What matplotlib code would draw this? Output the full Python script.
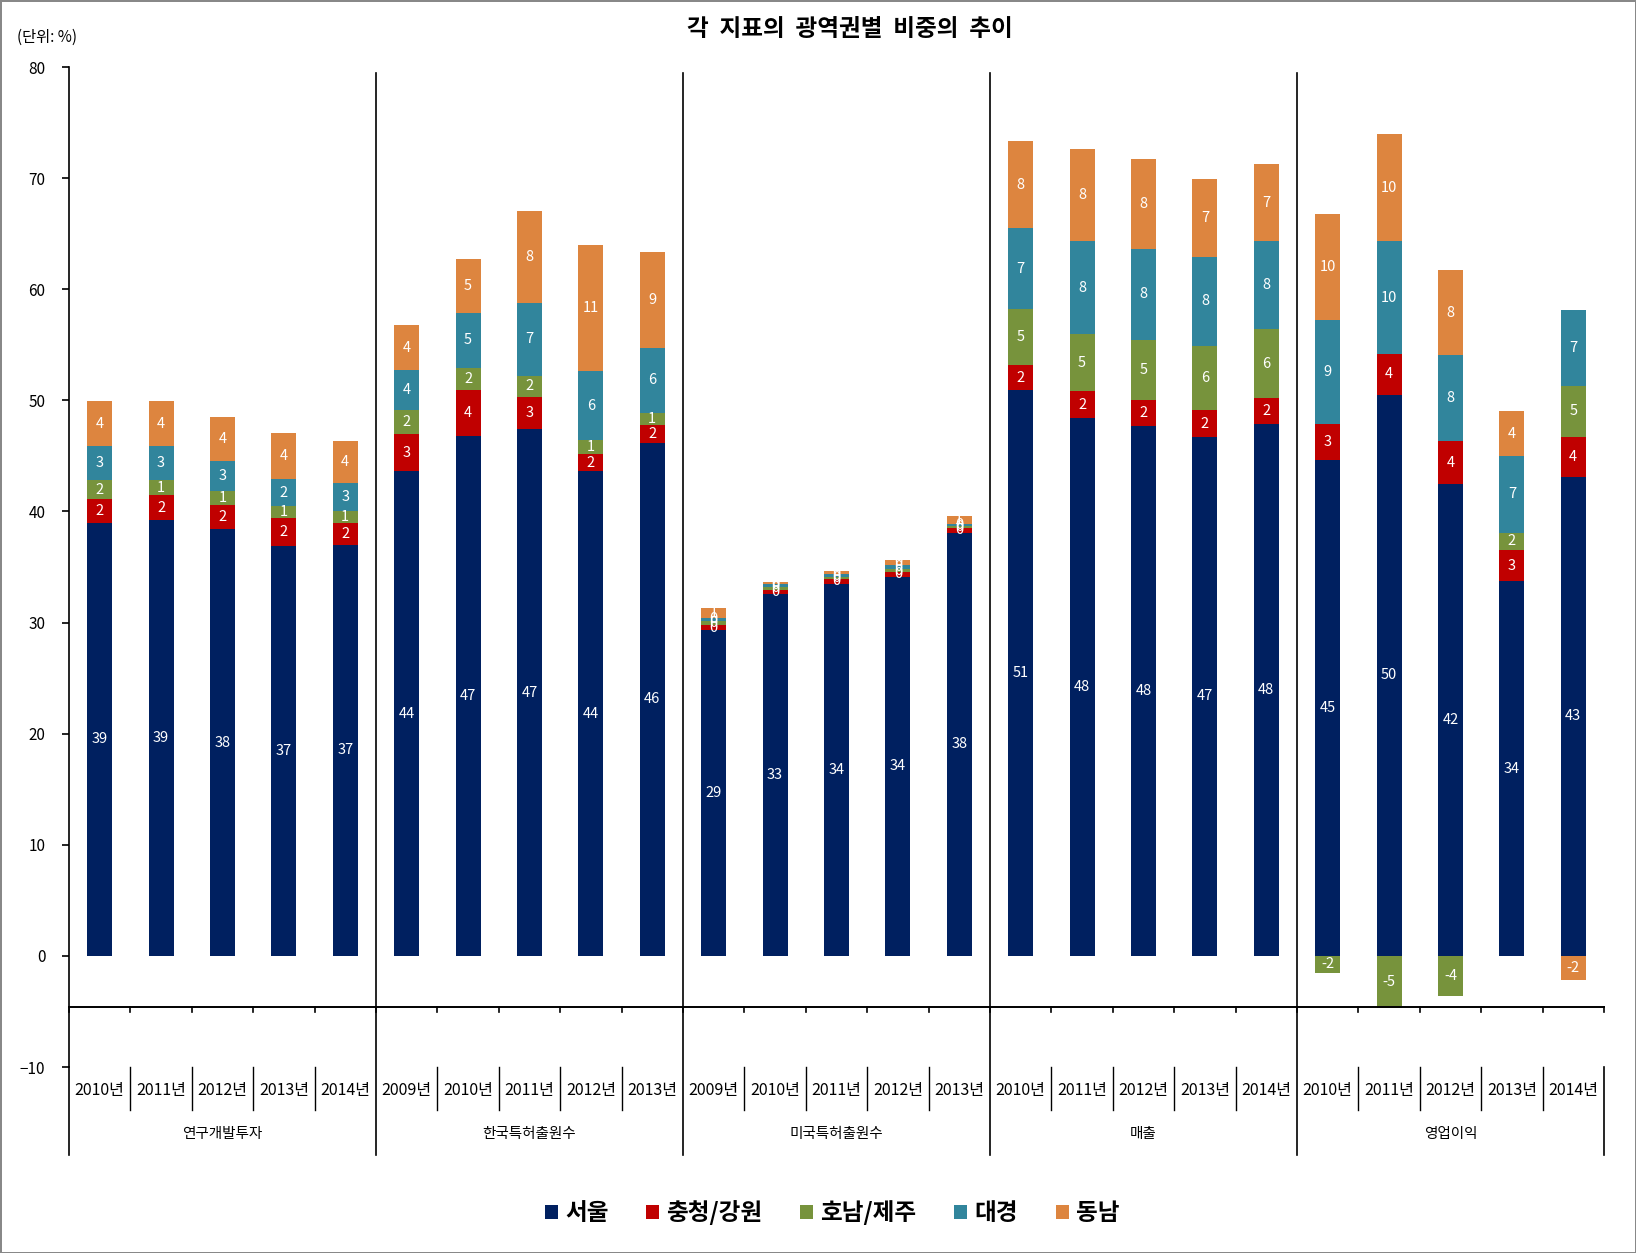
import matplotlib
matplotlib.use("Agg")
import matplotlib.pyplot as plt
import matplotlib.transforms as mtransforms
from matplotlib.patches import Patch
import numpy as np

plt.rcParams['font.family'] = ['Noto Sans CJK KR', 'DejaVu Sans']

# ---------------- data ----------------
groups = ['연구개발투자', '한국특허출원수', '미국특허출원수', '매출', '영업이익']
years = [
    ['2010년', '2011년', '2012년', '2013년', '2014년'],
    ['2009년', '2010년', '2011년', '2012년', '2013년'],
    ['2009년', '2010년', '2011년', '2012년', '2013년'],
    ['2010년', '2011년', '2012년', '2013년', '2014년'],
    ['2010년', '2011년', '2012년', '2013년', '2014년'],
]
series_names = ['서울', '충청/강원', '호남/제주', '대경', '동남']

seoul = [39.0, 39.2, 38.4, 36.9, 37.0,
         43.6, 46.8, 47.4, 43.6, 46.2,
         29.3, 32.6, 33.5, 34.1, 38.1,
         50.9, 48.4, 47.7, 46.7, 47.9,
         44.6, 50.5, 42.5, 33.7, 43.1]
chungcheong = [2.1, 2.3, 2.2, 2.5, 2.0,
               3.4, 4.1, 2.9, 1.6, 1.55,
               0.48, 0.35, 0.45, 0.45, 0.39,
               2.3, 2.4, 2.3, 2.4, 2.3,
               3.3, 3.7, 3.8, 2.8, 3.6]
honam = [1.7, 1.3, 1.2, 1.1, 1.0,
         2.1, 2.0, 1.9, 1.2, 1.1,
         0.38, 0.27, 0.18, 0.25, 0.21,
         5.0, 5.2, 5.45, 5.8, 6.2,
         -1.55, -4.7, -3.6, 1.6, 4.6]
daegyeong = [3.1, 3.1, 2.7, 2.4, 2.6,
             3.6, 5.0, 6.6, 6.2, 5.9,
             0.27, 0.24, 0.21, 0.39, 0.21,
             7.3, 8.3, 8.2, 8.0, 7.9,
             9.3, 10.1, 7.8, 6.9, 6.8]
dongnam = [4.0, 4.0, 4.0, 4.2, 3.7,
           4.1, 4.8, 8.2, 11.4, 8.6,
           0.9, 0.21, 0.33, 0.45, 0.69,
           7.8, 8.3, 8.1, 7.0, 7.0,
           9.6, 9.7, 7.6, 4.0, -2.2]

colors = ['#002060', '#C00000', '#77933C', '#31859C', '#DD853F']

# ---------------- figure ----------------
W, H = 1636, 1253
fig = plt.figure(figsize=(W / 100, H / 100), dpi=100)
fig.patch.set_edgecolor('#888888')
fig.patch.set_linewidth(2)

ax_l, ax_r, ax_t, ax_b = 69, 1604, 67, 1067
ax = fig.add_axes([ax_l / W, 1 - ax_b / H, (ax_r - ax_l) / W, (ax_b - ax_t) / H])

labels_flat = [y for g in years for y in g]
n = len(labels_flat)
x = np.arange(n)
data = [seoul, chungcheong, honam, daegyeong, dongnam]

pos_bottom = np.zeros(n)
neg_bottom = np.zeros(n)
bw = 0.41
for vals, col, name in zip(data, colors, series_names):
    vals = np.array(vals, dtype=float)
    bottoms = np.where(vals >= 0, pos_bottom, neg_bottom)
    ax.bar(x, vals, bw, bottom=bottoms, color=col, label=name, zorder=3)
    for xi, v, b in zip(x, vals, bottoms):
        ax.text(xi, b + v / 2, f"{v:.0f}", ha='center', va='center',
                color='white', fontsize=10.5, zorder=4)
    pos_bottom = np.where(vals >= 0, pos_bottom + vals, pos_bottom)
    neg_bottom = np.where(vals < 0, neg_bottom + vals, neg_bottom)

ax.set_xlim(-0.5, n - 0.5)
ax.set_ylim(-10, 80)
ax.set_yticks(np.arange(-10, 81, 10))
ax.tick_params(axis='y', direction='out', length=5, width=1.2, labelsize=11, pad=12)
ax.set_xticks([])
for s in ['top', 'right', 'bottom']:
    ax.spines[s].set_visible(False)
ax.spines['left'].set_linewidth(1.2)

# horizontal axis line (crosses below zero)
axis_y = -4.64
ax.plot([-0.5, n - 0.5], [axis_y, axis_y], color='black', lw=1.4, zorder=5, clip_on=False)

trans = mtransforms.blended_transform_factory(ax.transData, ax.transAxes)
def ay(px):
    return (ax_b - px) / (ax_b - ax_t)

axis_ay = (axis_y + 10) / 90
boundaries = np.arange(-0.5, n, 1.0)
for b in boundaries:
    ax.plot([b, b], [axis_ay, axis_ay - 5 / 1000], color='black', lw=1.2,
            transform=trans, clip_on=False)
    is_group = (round(b + 0.5) % 5 == 0)
    if is_group:
        top = ay(73) if 0 < b < n - 1 else ay(1067)
        ax.plot([b, b], [top, ay(1155)], color='black', lw=1.2,
                transform=trans, clip_on=False, zorder=5)
    else:
        ax.plot([b, b], [ay(1067), ay(1110)], color='black', lw=1.0,
                transform=trans, clip_on=False)

for xi, lab in zip(x, labels_flat):
    ax.text(xi, ay(1090), lab, ha='center', va='center', fontsize=11.5,
            transform=trans, clip_on=False)
for gi, g in enumerate(groups):
    ax.text(gi * 5 + 2, ay(1134), g, ha='center', va='center', fontsize=10.5,
            transform=trans, clip_on=False)

# title and unit
fig.text(850 / W, 1 - 29 / H, '각  지표의  광역권별  비중의  추이', ha='center', va='center',
         fontsize=17, fontweight='bold')
fig.text(17 / W, 1 - 37 / H, '(단위: %)', ha='left', va='center', fontsize=11)

handles = [Patch(facecolor=c, edgecolor='none') for c in colors]
fig.legend(handles, series_names, loc='center', bbox_to_anchor=(832 / W, 1 - 1213 / H),
           ncol=5, frameon=False, prop={'size': 17, 'weight': 'bold'},
           handlelength=0.55, handleheight=0.55, handletextpad=0.3, columnspacing=1.6)

fig.savefig('out.png', dpi=100)
